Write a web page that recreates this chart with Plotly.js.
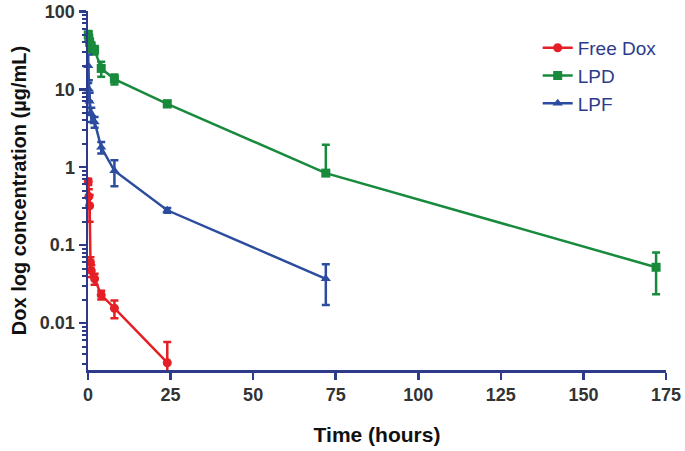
<!DOCTYPE html>
<html>
<head>
<meta charset="utf-8">
<script src="https://cdn.plot.ly/plotly-3.0.1.min.js"></script>
<style>html,body{margin:0;padding:0;background:#fff;}#chart{width:685px;height:451px;}</style>
</head>
<body>
<div id="chart"></div>
<script>
// Data
const timeFree = [0.083, 0.25, 0.5, 0.75, 1, 2, 4, 8, 24];
const freeDox  = [0.65, 0.42, 0.32, 0.06, 0.047, 0.037, 0.023, 0.0155, 0.0031];
const freeSD   = [0.06, 0.1, 0.12, 0.01, 0.008, 0.006, 0.003, 0.004, 0.0026];

const timeLPD = [0.083, 0.25, 0.5, 1, 2, 4, 8, 24, 72, 172];
const lpd     = [50, 45, 40, 35, 32, 18.5, 13.5, 6.5, 0.84, 0.052];
const lpdSD   = [6, 5, 5, 5, 4, 4, 2, 0.6, 1.1, 0.0285];

const timeLPF = [0.083, 0.25, 0.5, 1, 2, 4, 8, 24, 72];
const lpf     = [20, 10, 7, 4.8, 3.8, 1.8, 0.9, 0.28, 0.037];
const lpfSD   = [8, 3, 2, 1, 0.6, 0.3, 0.33, 0.02, 0.02];

const seriesNames = ['Free Dox', 'LPD', 'LPF'];
const xTickVals = [0, 25, 50, 75, 100, 125, 150, 175];
const yTickVals = [0.01, 0.1, 1, 10, 100];
const yTickText = ['0.01', '0.1', '1', '10', '100'];

const minorVals = [];
[0.001, 0.01, 0.1, 1, 10].forEach(d => { for (let k = 2; k <= 9; k++) minorVals.push(+(d * k).toPrecision(3)); });

const lowerErr = (vals, sd) => sd.map((s, i) => (s < vals[i] ? s : 0));

function trace(name, x, y, sd, color, symbol, size) {
  return {
    type: 'scatter', mode: 'lines+markers', name: name, x: x, y: y,
    cliponaxis: false,
    line: {color: color, width: 2.5},
    marker: {color: color, symbol: symbol, size: size},
    error_y: {type: 'data', symmetric: false, array: sd, arrayminus: lowerErr(y, sd),
              color: color, thickness: 2.5, width: 4}
  };
}

const data = [
  trace(seriesNames[0], timeFree, freeDox, freeSD, '#e41f26', 'circle', 9),
  trace(seriesNames[1], timeLPD, lpd, lpdSD, '#178a3c', 'square', 9),
  trace(seriesNames[2], timeLPF, lpf, lpfSD, '#2b4c9f', 'triangle-up', 9)
];

const axisColor = '#2e3b8a';
const layout = {
  width: 685, height: 451,
  margin: {l: 88, r: 19, t: 11, b: 81},
  paper_bgcolor: '#fff', plot_bgcolor: '#fff',
  font: {family: 'Liberation Sans, Arial, sans-serif', color: '#333'},
  showlegend: true,
  legend: {x: 0.778, y: 0.95, xanchor: 'left', yanchor: 'top',
           font: {size: 19, color: '#2e3b8a', family: 'Liberation Sans, Arial, sans-serif'},
           bgcolor: 'rgba(0,0,0,0)', tracegroupgap: 0, itemwidth: 30},
  xaxis: {
    range: [0, 175], tickmode: 'array', tickvals: xTickVals,
    showgrid: false, zeroline: false, showline: true, linecolor: axisColor, linewidth: 2.5,
    ticks: 'outside', ticklen: 7, tickwidth: 2.5, tickcolor: axisColor,
    ticklabeloverflow: 'allow',
    tickfont: {size: 18, color: '#333', weight: 'bold'},
    title: {text: 'Time (hours)', font: {size: 21, color: '#111', weight: 'bold'}, standoff: 23}
  },
  yaxis: {
    type: 'log', range: [Math.log10(0.0025), 2.004],
    tickmode: 'array', tickvals: yTickVals, ticktext: yTickText,
    showgrid: false, zeroline: false, showline: true, linecolor: axisColor, linewidth: 2.5,
    ticks: 'outside', ticklen: 7, tickwidth: 2.5, tickcolor: axisColor,
    ticklabeloverflow: 'allow',
    tickfont: {size: 18, color: '#333', weight: 'bold'},
    minor: {tickmode: 'array', tickvals: minorVals, ticks: 'outside', ticklen: 4, tickwidth: 2, tickcolor: axisColor, showgrid: false},
    title: {text: 'Dox log concentration (µg/mL)', font: {size: 20, color: '#111', weight: 'bold'}, standoff: 8}
  }
};

Plotly.newPlot('chart', data, layout, {displayModeBar: false, staticPlot: true});
</script>
</body>
</html>
